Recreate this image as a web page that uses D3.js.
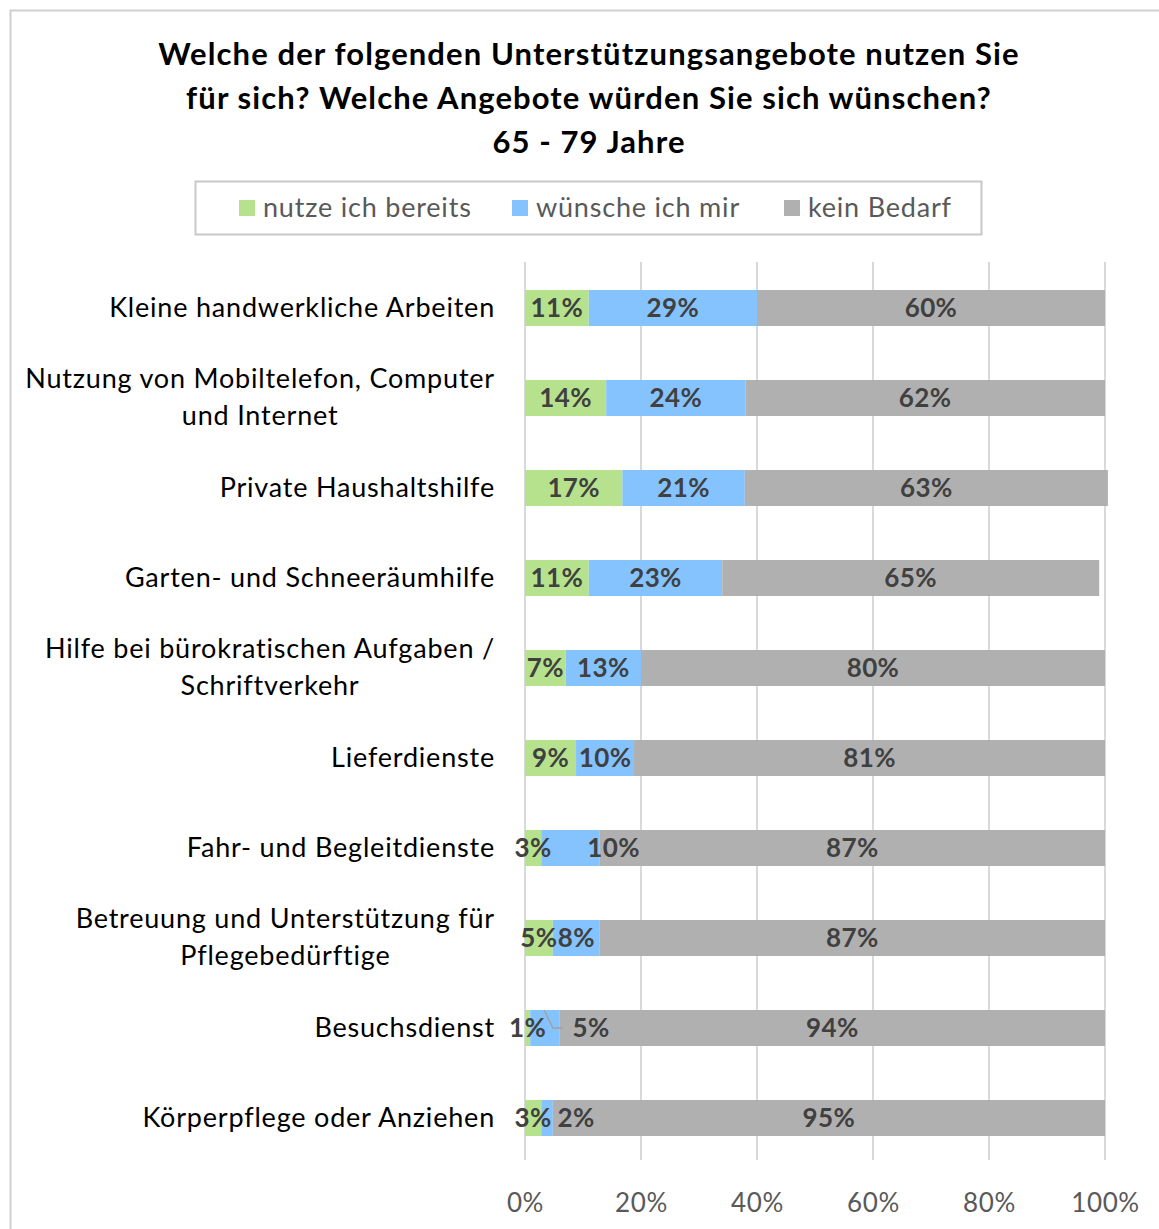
<!DOCTYPE html>
<html>
<head>
<meta charset="utf-8">
<script src="https://cdn.jsdelivr.net/npm/d3@7"></script>
<style>
  body { margin: 0; background: #fff; }
  svg { display: block; font-family: Lato, "Open Sans", sans-serif; }
</style>
</head>
<body>
<div id="chart"></div>
<script>
var categories = [
  "Kleine handwerkliche Arbeiten",
  "Nutzung von Mobiltelefon, Computer|und Internet",
  "Private Haushaltshilfe",
  "Garten- und Schneeräumhilfe",
  "Hilfe bei bürokratischen Aufgaben /|Schriftverkehr",
  "Lieferdienste",
  "Fahr- und Begleitdienste",
  "Betreuung und Unterstützung für|Pflegebedürftige",
  "Besuchsdienst",
  "Körperpflege oder Anziehen"
];
var seriesNames = ["nutze ich bereits", "wünsche ich mir", "kein Bedarf"];
var nutze   = [11, 14, 16.8, 11, 7, 8.8, 2.8, 4.8, 0.9, 2.8];
var wuensche = [29, 24, 21.1, 23, 13, 10, 10.1, 8.1, 5.1, 2];
var keinBedarf = [60, 62, 62.6, 65, 80, 81.2, 87.1, 87.1, 94, 95.2];
var tickValues = [0, 20, 40, 60, 80, 100];

var colors = ["#b7e28d", "#85c3ff", "#b0b0b0"];
// manual label shifts (px) like in the original
var labelNudge = { "6-1": 43, "8-1": 46, "9-1": 29 };

var width = 1159, height = 1229;
var plotLeft = 525, plotRight = 1105, plotTop = 263, plotBottom = 1163;

var svg = d3.select('#chart').append('svg')
  .attr('width', width)
  .attr('height', height);

// outer frame
svg.append('rect')
  .attr('x', 10.5).attr('y', 10.5)
  .attr('width', width + 20).attr('height', height + 20)
  .attr('fill', 'none').attr('stroke', '#d0d0d0').attr('stroke-width', 2);

// title
var titleLines = [
  "Welche der folgenden Unterstützungsangebote nutzen Sie",
  "für sich? Welche Angebote würden Sie sich wünschen?",
  "65 - 79 Jahre"
];
svg.append('g').selectAll('text')
  .data(titleLines)
  .enter().append('text')
  .attr('x', 589)
  .attr('y', function(d, i) { return 65 + i * 44; })
  .attr('text-anchor', 'middle')
  .attr('font-size', 31)
  .attr('font-weight', 'bold')
  .attr('letter-spacing', 1.1)
  .attr('fill', '#000')
  .text(function(d) { return d; });

// legend
var legendG = svg.append('g');
legendG.append('rect')
  .attr('x', 195.5).attr('y', 181.5)
  .attr('width', 786).attr('height', 53)
  .attr('fill', '#fff').attr('stroke', '#c8c8c8').attr('stroke-width', 2);
var legendX = [239, 512, 784];
var legendItem = legendG.selectAll('.legend')
  .data(seriesNames)
  .enter().append('g')
  .attr('class', 'legend')
  .attr('transform', function(d, i) { return 'translate(' + legendX[i] + ',208)'; });
legendItem.append('rect')
  .attr('x', 0).attr('y', -8)
  .attr('width', 16).attr('height', 16)
  .attr('fill', function(d, i) { return colors[i]; });
legendItem.append('text')
  .attr('x', 24).attr('y', 9)
  .attr('font-size', 27)
  .attr('letter-spacing', 0.8)
  .attr('fill', '#595959')
  .text(function(d) { return d; });

// scales
var x = d3.scaleLinear().domain([0, 100]).range([plotLeft, plotRight]);
var y = d3.scaleBand().domain(d3.range(categories.length))
  .range([plotTop, plotBottom])
  .paddingInner(0.6).paddingOuter(0.3);

// gridlines
svg.append('g').selectAll('line')
  .data(tickValues)
  .enter().append('line')
  .attr('x1', function(d) { return x(d); })
  .attr('x2', function(d) { return x(d); })
  .attr('y1', plotTop - 1).attr('y2', plotBottom - 3)
  .attr('stroke', '#d9d9d9').attr('stroke-width', 2);

// x axis labels
var xAxis = d3.axisBottom(x)
  .tickValues(tickValues)
  .tickSize(0)
  .tickFormat(function(d) { return d + '%'; });
var axisG = svg.append('g')
  .attr('transform', 'translate(0,' + (plotBottom + 28) + ')')
  .call(xAxis);
axisG.select('.domain').remove();
axisG.selectAll('text')
  .attr('font-size', 26)
  .attr('letter-spacing', 0.6)
  .attr('font-family', 'Lato, "Open Sans", sans-serif')
  .attr('fill', '#595959');

// stacked data
var rows = categories.map(function(c, i) {
  return { idx: i, vals: [nutze[i], wuensche[i], keinBedarf[i]] };
});
var segs = [];
rows.forEach(function(r) {
  var acc = 0;
  r.vals.forEach(function(v, s) {
    segs.push({ row: r.idx, s: s, x0: acc, x1: acc + v, v: v });
    acc += v;
  });
});

svg.append('g').selectAll('rect')
  .data(segs)
  .enter().append('rect')
  .attr('x', function(d) { return x(d.x0); })
  .attr('width', function(d) { return x(d.x1) - x(d.x0); })
  .attr('y', function(d) { return y(d.row); })
  .attr('height', y.bandwidth())
  .attr('fill', function(d) { return colors[d.s]; });

// leader line for Besuchsdienst
svg.append('polyline')
  .attr('points', [[544, y(8)], [553, y(8) + y.bandwidth() / 2], [563, y(8) + y.bandwidth() / 2]].join(' '))
  .attr('fill', 'none').attr('stroke', '#a0a0a0').attr('stroke-width', 1.5);

// data labels
svg.append('g').selectAll('text')
  .data(segs)
  .enter().append('text')
  .attr('x', function(d) {
    return (x(d.x0) + x(d.x1)) / 2 + (labelNudge[d.row + '-' + d.s] || 0);
  })
  .attr('y', function(d) { return y(d.row) + y.bandwidth() / 2 + 9; })
  .attr('text-anchor', 'middle')
  .attr('font-size', 26)
  .attr('font-weight', 'bold')
  .attr('letter-spacing', 0.4)
  .attr('fill', '#404040')
  .text(function(d) { return Math.round(d.v) + '%'; });

// category labels
var catG = svg.append('g')
  .attr('font-size', 27)
  .attr('letter-spacing', 0.8)
  .attr('fill', '#000');
categories.forEach(function(c, i) {
  var lines = c.split('|');
  var cy = y(i) + y.bandwidth() / 2;
  if (lines.length === 1) {
    catG.append('text')
      .attr('x', 495).attr('y', cy + 9)
      .attr('text-anchor', 'end')
      .text(lines[0]);
  } else {
    var first = catG.append('text')
      .attr('x', 495).attr('y', cy - 19 + 9)
      .attr('text-anchor', 'end')
      .text(lines[0]);
    var w = first.node().getComputedTextLength();
    catG.append('text')
      .attr('x', 495 - w / 2).attr('y', cy + 18 + 9)
      .attr('text-anchor', 'middle')
      .text(lines[1]);
  }
});
</script>
</body>
</html>
